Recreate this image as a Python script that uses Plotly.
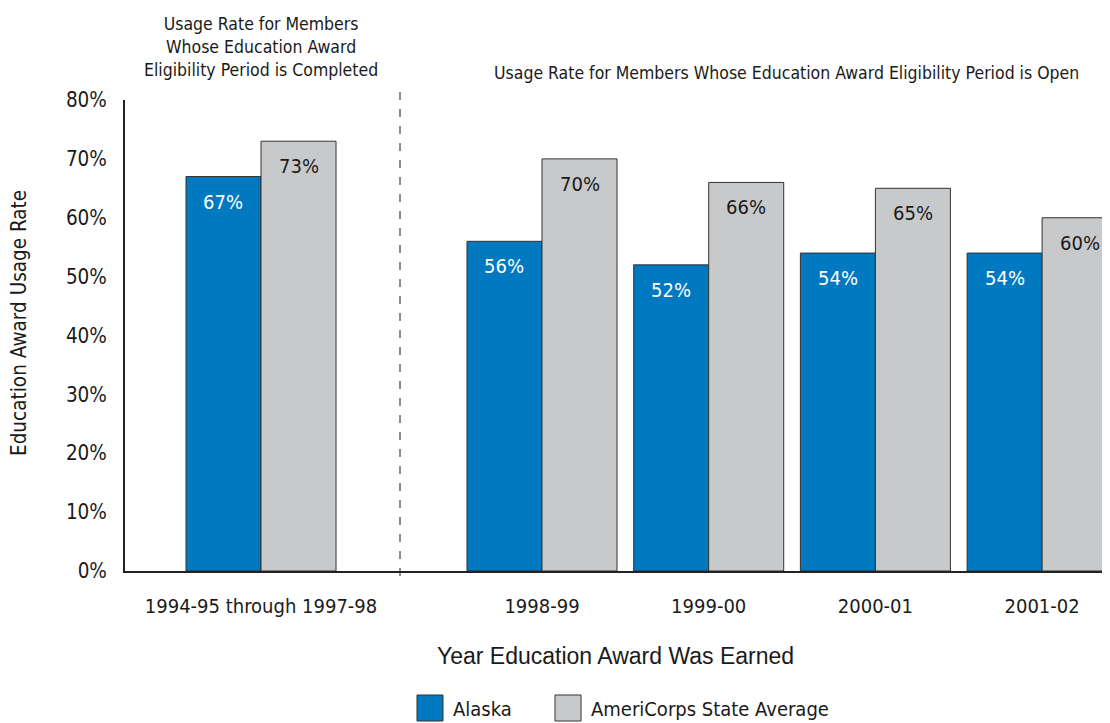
import plotly.graph_objects as go

# ---- data ----
completed_categories = ["1994-95 through 1997-98"]
open_categories = ["1998-99", "1999-00", "2000-01", "2001-02"]
series_names = ["Alaska", "AmeriCorps State Average"]
alaska_completed = [67]
state_completed = [73]
alaska_open = [56, 52, 54, 54]
state_open = [70, 66, 65, 60]
y_ticks = [0, 10, 20, 30, 40, 50, 60, 70, 80]

# ---- styling ----
OFF = 8  # page body margin
W, H = 1110 - OFF, 723 - OFF
ML, MR, MT = 125 - OFF, 0, 100 - OFF
MB = H - (571 - OFF)
PW, PH = W - ML - MR, H - MT - MB
BLUE = "#0079C1"
GRAY = "#C8C9CB"
EDGE = "#333333"
TXT = "#1a1a1a"
NARROW = "Liberation Sans Narrow, DejaVu Sans Condensed, Arial Narrow, sans-serif"
REG = "Liberation Sans, Arial, Helvetica, sans-serif"
BARGAP = 0.1


def px_x(p):  # reference pixel -> paper
    return (p - OFF - ML) / PW


def px_y(p):
    return (H - MB - (p - OFF)) / PH


split = px_x(400)
unit_px = 166.7
left_w = 400 - 125
right_w = 1110 - 400
left_start = -(261 - 125) / unit_px
right_start = -(542 - 400) / unit_px

fig = go.Figure()
for vals_c, vals_o, name, col in [
    (alaska_completed, alaska_open, series_names[0], BLUE),
    (state_completed, state_open, series_names[1], GRAY),
]:
    fig.add_trace(go.Bar(x=completed_categories, y=vals_c, name=name, xaxis="x", yaxis="y",
                         marker=dict(color=col, line=dict(color=EDGE, width=1)),
                         showlegend=False, hoverinfo="skip"))
    fig.add_trace(go.Bar(x=open_categories, y=vals_o, name=name, xaxis="x2", yaxis="y",
                         marker=dict(color=col, line=dict(color=EDGE, width=1)),
                         showlegend=False, hoverinfo="skip"))

# value labels
half = (1 - BARGAP) / 4
for xref, cats, a_vals, s_vals in [
    ("x", completed_categories, alaska_completed, state_completed),
    ("x2", open_categories, alaska_open, state_open),
]:
    for i, _ in enumerate(cats):
        for off, v, fc in [(-half, a_vals[i], "white"), (half, s_vals[i], TXT)]:
            fig.add_annotation(x=i + off, y=v, xref=xref, yref="y", text=f"{v}%",
                               showarrow=False, yshift=-25,
                               font=dict(family=NARROW, size=20, color=fc))

# headings
fig.add_annotation(x=px_x(261), y=px_y(47), xref="paper", yref="paper",
                   text="Usage Rate for Members<br>Whose Education Award<br>Eligibility Period is Completed",
                   showarrow=False, font=dict(family=NARROW, size=17.5, color=TXT),
                   align="center", xanchor="center", yanchor="middle")
fig.add_annotation(x=px_x(786), y=px_y(73), xref="paper", yref="paper",
                   text="Usage Rate for Members Whose Education Award Eligibility Period is Open",
                   showarrow=False, font=dict(family=NARROW, size=17.5, color=TXT),
                   xanchor="center", yanchor="middle")

# axis titles
fig.add_annotation(x=px_x(615), y=px_y(656), xref="paper", yref="paper",
                   text="Year Education Award Was Earned", showarrow=False,
                   font=dict(family=REG, size=23, color=TXT),
                   xanchor="center", yanchor="middle")
fig.add_annotation(x=px_x(19), y=px_y(323), xref="paper", yref="paper",
                   text="Education Award Usage Rate", showarrow=False, textangle=-90,
                   font=dict(family=NARROW, size=20.5, color=TXT),
                   xanchor="center", yanchor="middle")

# dashed divider
fig.add_shape(type="line", xref="paper", yref="paper", x0=split, x1=split,
              y0=px_y(576), y1=px_y(92), line=dict(color="#1a1a1a", width=1, dash="8px,9px"))

# manual legend
for name, col, lx in [(series_names[0], BLUE, 417), (series_names[1], GRAY, 555)]:
    fig.add_shape(type="rect", xref="paper", yref="paper",
                  x0=px_x(lx), x1=px_x(lx + 26), y0=px_y(721), y1=px_y(695),
                  fillcolor=col, line=dict(color=EDGE, width=1))
    fig.add_annotation(x=px_x(lx + 34), y=px_y(709), xref="paper", yref="paper",
                       text=name, showarrow=False, xanchor="left", yanchor="middle",
                       font=dict(family=NARROW, size=20, color=TXT))

axis_common = dict(type="category", showline=True, linecolor="#222222", linewidth=2,
                   ticks="outside", ticklen=16, tickcolor="rgba(0,0,0,0)",
                   tickfont=dict(family=NARROW, size=20, color=TXT),
                   showgrid=False, zeroline=False, anchor="y", fixedrange=True)

fig.update_layout(
    width=W, height=H,
    margin=dict(l=ML, r=MR, t=MT, b=MB),
    paper_bgcolor="white", plot_bgcolor="white",
    barmode="group", bargap=BARGAP, bargroupgap=0,
    showlegend=False,
    xaxis=dict(domain=[0, split], range=[left_start, left_start + left_w / unit_px], **axis_common),
    xaxis2=dict(domain=[split, 1], range=[right_start, right_start + right_w / unit_px], **axis_common),
    yaxis=dict(range=[0, 80], tickvals=y_ticks, ticktext=[f"{v}%" for v in y_ticks],
               showline=True, linecolor="#222222", linewidth=2,
               ticks="outside", ticklen=12, tickcolor="rgba(0,0,0,0)",
               tickfont=dict(family=NARROW, size=20.5, color=TXT),
               showgrid=False, zeroline=False, fixedrange=True),
)

fig.write_html("out.html")
